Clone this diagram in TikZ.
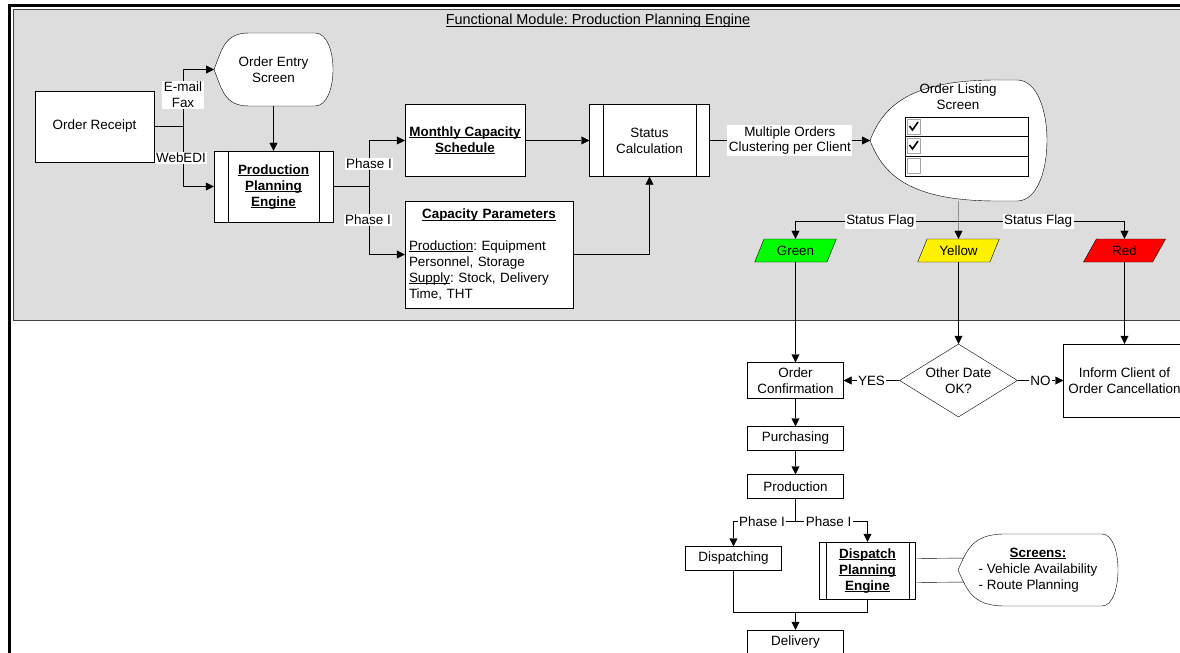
\documentclass[tikz,border=0pt]{standalone}
\usepackage{fontspec}
\setmainfont{Liberation Sans}
\usepackage{tikz}
\usetikzlibrary{arrows.meta, shapes.geometric, calc, positioning}
\definecolor{panelgray}{HTML}{DDDDDD}
\pgfdeclarelayer{back}
\pgfdeclarelayer{mid}
\pgfsetlayers{back,mid,main}
\frenchspacing

\newcommand{\fs}{\fontsize{13.5}{16}\selectfont}
% underline that runs through the descenders
\newcommand{\uln}[1]{\underline{\smash{#1}\vphantom{A}}}
% display shape round a named node: node, left span, right span, tip pull
\newcommand{\screenpath}[4]{%
  \draw[fill=white] (#1.west)
    .. controls ($(#1.west)!0.55!(#1.north west)+(#4,0)$) and ($(#1.north west)+(0.3*#2,0)$) .. ($(#1.north west)+(#2,0)$)
    -- ($(#1.north east)+(-#3,0)$)
    .. controls ($(#1.north east)+(#3/3,0)$) and ($(#1.south east)+(#3/3,0)$) .. ($(#1.south east)+(-#3,0)$)
    -- ($(#1.south west)+(#2,0)$)
    .. controls ($(#1.south west)+(0.3*#2,0)$) and ($(#1.west)!0.55!(#1.south west)+(#4,0)$) .. cycle;}
% side bars of a predefined process box
\newcommand{\sidebars}[2]{%
  \draw ([xshift=#2]#1.north west) -- ([xshift=#2]#1.south west);
  \draw ([xshift=-#2]#1.north east) -- ([xshift=-#2]#1.south east);}

\begin{document}
\begin{tikzpicture}[x=1bp, y=-1bp, line width=1bp,
    every node/.style={font=\fs},
    box/.style={draw, fill=white, inner sep=2pt, align=center},
    small/.style={box, minimum width=96bp, minimum height=24bp},
    lbl/.style={fill=white, inner sep=1.5pt, align=center},
    flag/.style={trapezium, trapezium left angle=63, trapezium right angle=117, trapezium stretches=true,
                 draw, minimum width=82bp, minimum height=23bp, inner sep=1pt},
    scr/.style={inner sep=0pt, outer sep=0pt, align=center},
    >={Triangle[length=8bp, width=8bp]}]
    \useasboundingbox (0,0) rectangle (1180,653);
    \clip (0,0) rectangle (1180,653);

    % panel and frame
    \begin{pgfonlayer}{back}
        \fill[white] (0,0) rectangle (1180,653);
        \draw[fill=panelgray, draw=black!75] (13,9) rectangle (1195,320.5);
        \draw[line width=3.5bp] (9.5,665) -- (9.5,5.5) -- (1195,5.5);
    \end{pgfonlayer}
    \node[font=\fontsize{14.5}{17}\selectfont] (title) at (598,21) {\uln{Functional Module: Production Planning Engine}};

    % order intake
    \node[box, minimum width=119bp, minimum height=71bp] (rcpt) at (94.5,126.5) {Order Receipt};
    \node[scr, minimum width=119bp, minimum height=73bp] (entry) at (273.5,69.5) {Order Entry\\Screen};
    \node[box, minimum width=119bp, minimum height=71bp] (ppe) at (273.5,186.5)
        {\uln{\textbf{Production}}\\\uln{\textbf{Planning}}\\\uln{\textbf{Engine}}};
    \sidebars{ppe}{14bp}

    \coordinate (fork1) at (183.5,126.5);
    \draw (rcpt.east) -- (fork1);
    \draw[->] (fork1) |- (entry.west);
    \draw[->] (fork1) |- (ppe.west);
    \draw[->] (entry.south) -- (ppe.north);
    \node[lbl] (mail) at (183,95) {E-mail\\Fax};
    \node[lbl] (edi) at (181,158) {WebEDI};

    % capacity
    \node[box, minimum width=120bp, minimum height=72bp] (mcs) at (465,140.5)
        {\uln{\textbf{Monthly Capacity}}\\\uln{\textbf{Schedule}}};
    \node[box, minimum width=168bp, minimum height=107bp, text width=160bp, align=left, inner sep=4bp] (capp) at (489,254.5)
        {\makebox[160bp]{\uln{\textbf{Capacity Parameters}}}\\[16pt]
         \uln{Production}: Equipment\\Personnel, Storage\\\uln{Supply}: Stock, Delivery\\Time, THT};
    \node[box, minimum width=120bp, minimum height=72bp] (stat) at (649.5,140.5) {Status\\Calculation};
    \sidebars{stat}{14bp}

    \coordinate (fork2) at (369.5,186.5);
    \draw (ppe.east) -- (fork2);
    \draw[->] (fork2) |- (mcs.west);
    \draw[->] (fork2) |- (capp.west);
    \node[lbl] (ph1) at (369,164) {Phase I};
    \node[lbl] (ph2) at (368,220) {Phase I};
    \draw[->] (mcs.east) -- (stat.west);
    \draw[->] (capp.east) -| (stat.south);

    % order listing screen
    \node[scr, minimum width=177bp, minimum height=121bp] (ols) at (958.5,140.5) {};
    \node[align=center] (olsname) at (958,97) {Order Listing\\Screen};
    \draw[->] (stat.east) -- (ols.west) node[midway, lbl] {Multiple Orders\\Clustering per Client};

    \draw[fill=white] (905.5,117.5) rectangle (1028.5,136.5);
    \draw[fill=white] (905.5,136.5) rectangle (1028.5,156.5);
    \draw[fill=white] (905.5,156.5) rectangle (1028.5,176.5);
    \draw[gray!70, fill=white] (907.5,119.5) rectangle (920.5,134.5);
    \draw[gray!70, fill=white] (907.5,138.5) rectangle (920.5,153.5);
    \draw[gray!70, fill=white] (907.5,158.5) rectangle (920.5,173.5);
    \draw[line width=1.6bp] (909.5,126) -- (912.5,130) -- (918,122);
    \draw[line width=1.6bp] (909.5,145) -- (912.5,149) -- (918,141);

    % status flags
    \node[flag, fill=green] (green) at (795.5,250.5) {Green};
    \node[flag, fill=yellow] (yellow) at (958.5,250.5) {Yellow};
    \node[flag, fill=red] (red) at (1124.5,250.5) {Red};

    \coordinate (sf) at (958.5,221.5);
    \draw[->] (ols.south) -- (yellow);
    \draw[->] (sf) -| (green) node[pos=0.24, lbl] {Status Flag};
    \draw[->] (sf) -| (red) node[pos=0.24, lbl] {Status Flag};

    % outcome
    \node[box, minimum width=96bp, minimum height=36bp] (conf) at (795.5,380.5) {Order\\Confirmation};
    \node[diamond, draw, fill=white, aspect=1.62, inner sep=0pt, minimum width=118bp, minimum height=73bp, align=center]
        (date) at (958.5,380.5) {Other Date\\OK?};
    \node[box, minimum width=122bp, minimum height=73bp] (inform) at (1124.5,380.5) {Inform Client of\\Order Cancellation};

    \draw[->] (conf.north |- green.south) -- (conf.north);
    \draw[->] (date.north |- yellow.south) -- (date.north);
    \draw[->] (inform.north |- red.south) -- (inform.north);
    \draw[->] (date.west) -- (conf.east) node[midway, lbl] {YES};
    \draw[->] (date.east) -- (inform.west) node[midway, lbl] {NO};

    \node[small] (purch) at (795.5,438.5) {Purchasing};
    \node[small] (prod) at (795.5,486.5) {Production};
    \draw[->] (conf.south) -- (purch.north);
    \draw[->] (purch.south) -- (prod.north);

    % dispatch
    \node[small] (disp) at (733.5,558.5) {Dispatching};
    \node[box, minimum width=96bp, minimum height=57bp] (dpe) at (867.5,570.5)
        {\uln{\textbf{Dispatch}}\\\uln{\textbf{Planning}}\\\uln{\textbf{Engine}}};
    \sidebars{dpe}{7bp}
    \node[scr, minimum width=160bp, minimum height=72bp] (scrn) at (1038,570)
        {\begin{tabular}{@{}l@{}}\multicolumn{1}{@{}c@{}}{\uln{\textbf{Screens:}}}\\- Vehicle Availability\\- Route Planning\end{tabular}};
    \node[small] (deliv) at (795.5,642) {Delivery};

    \coordinate (split) at (795.5,521.5);
    \draw (prod.south) -- (split);
    \draw[->] (split) -| (disp.north) node[pos=0.27, lbl] {Phase I};
    \draw[->] (split) -| (dpe.north) node[pos=0.23, lbl] {Phase I};

    \coordinate (join) at (795.5,612.5);
    \draw (disp.south) |- (join);
    \draw (dpe.south) |- (join);
    \draw[->] (join) -- (deliv.north);

    % screen outlines
    \begin{pgfonlayer}{mid}
        \draw ([yshift=12bp]dpe.east) -- ([xshift=10bp, yshift=12bp]scrn.west);
        \draw ([yshift=-12bp]dpe.east) -- ([xshift=10bp, yshift=-12bp]scrn.west);
        \screenpath{entry}{35}{18}{8}
        \screenpath{ols}{127}{30}{13}
        \screenpath{scrn}{47}{16}{9}
    \end{pgfonlayer}
\end{tikzpicture}
\end{document}
